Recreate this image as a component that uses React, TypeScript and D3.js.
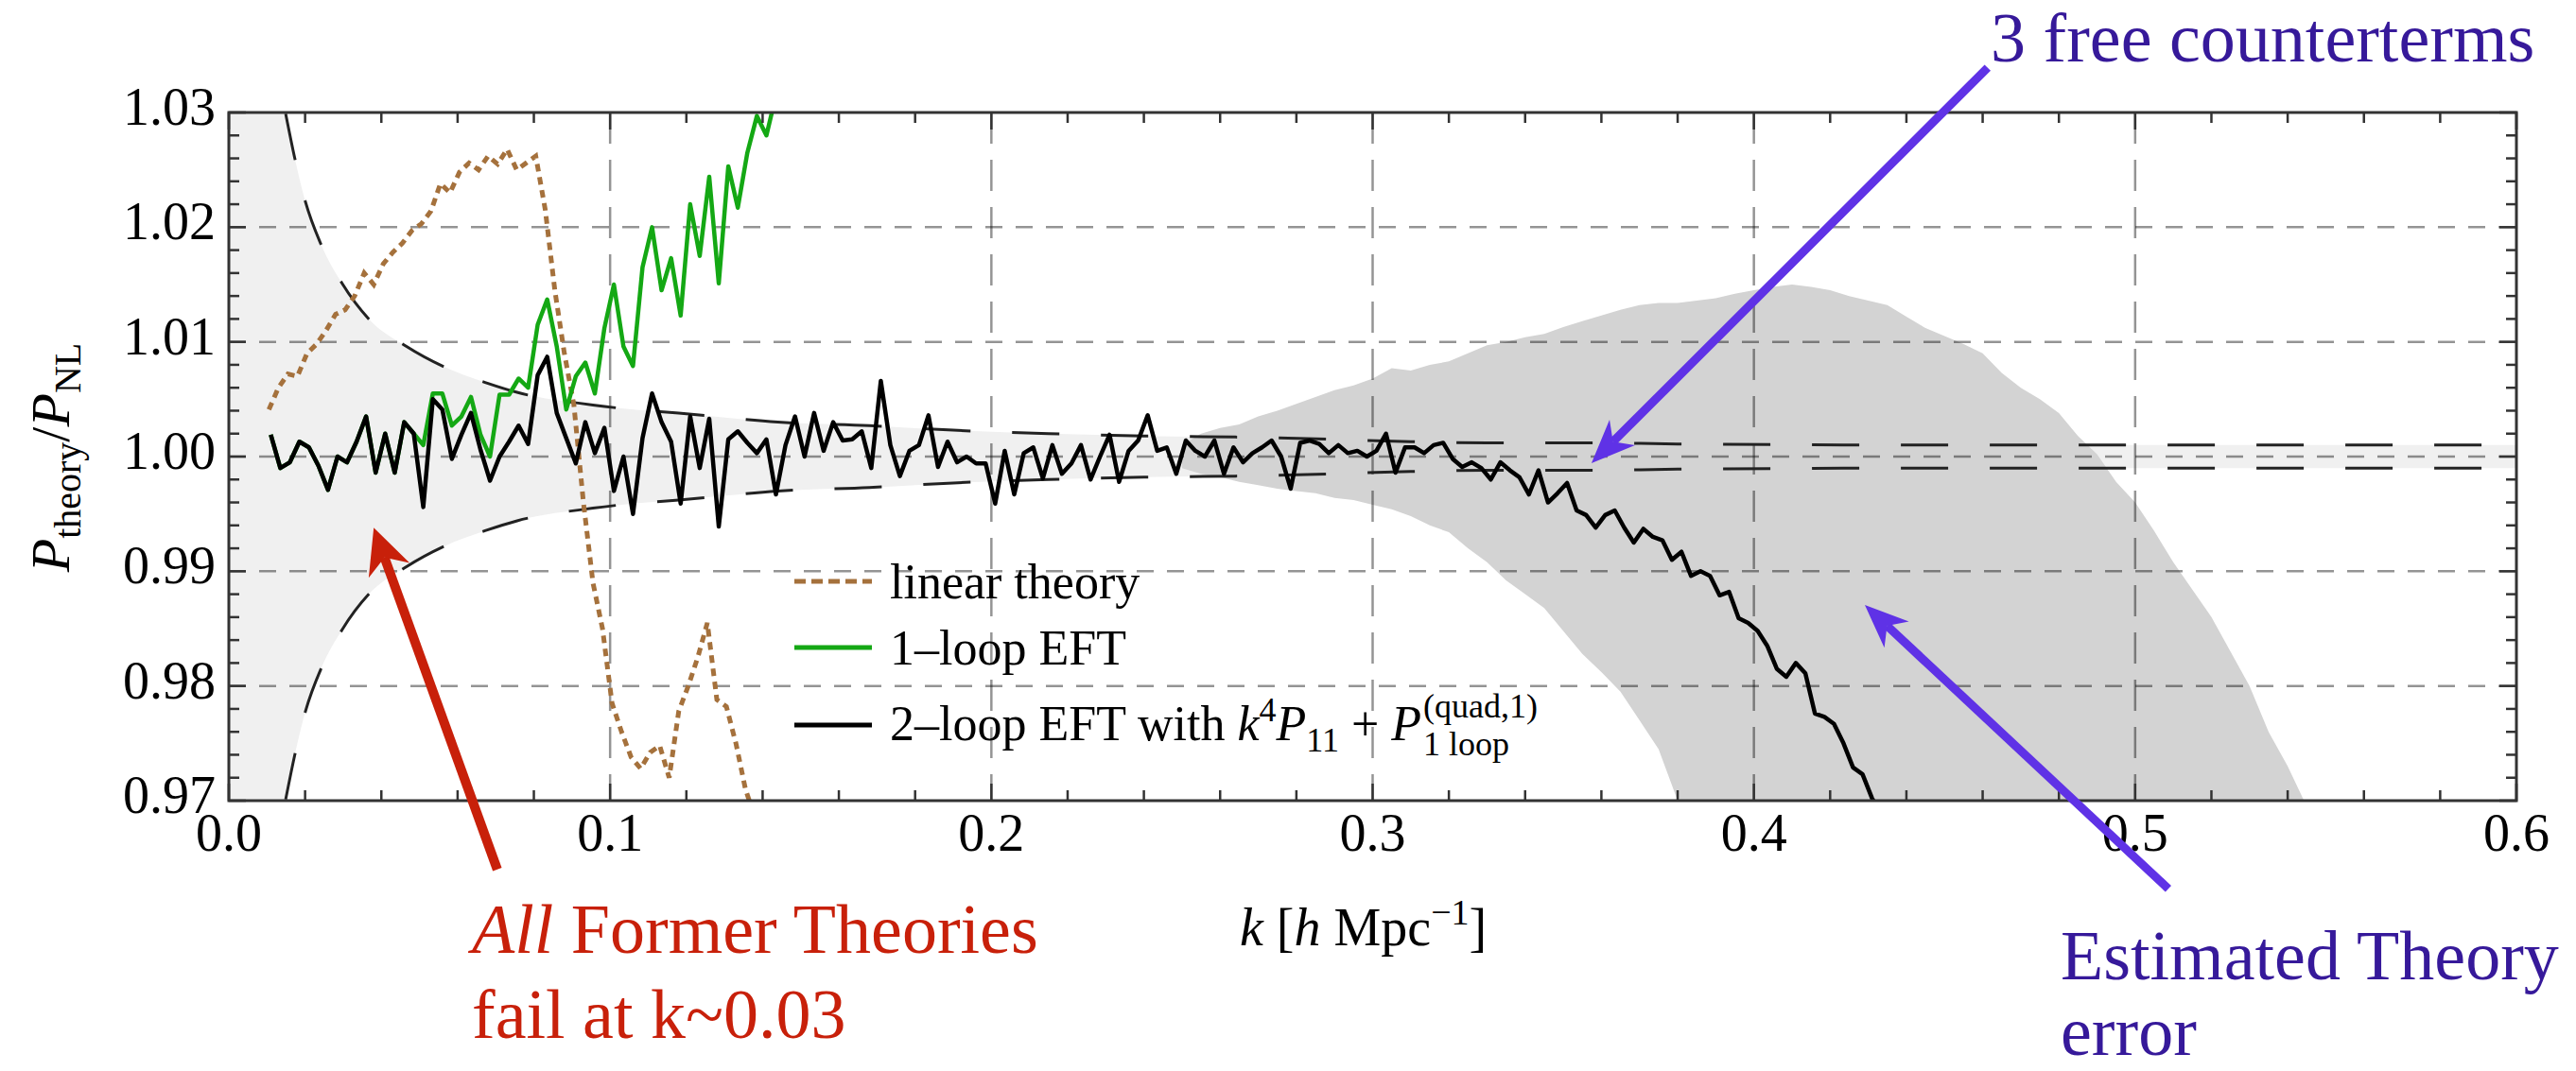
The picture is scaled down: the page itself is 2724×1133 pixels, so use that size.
import React, { useEffect, useRef } from "react";
import * as d3 from "d3";

const W = 2724;
const H = 1133;

// ---------- axes ----------
const xDomain = [0, 0.6];
const yDomain = [0.97, 1.03];
const xTickValues = [0, 0.1, 0.2, 0.3, 0.4, 0.5, 0.6];
const xTickLabels = ["0.0", "0.1", "0.2", "0.3", "0.4", "0.5", "0.6"];
const yTickValues = [0.97, 0.98, 0.99, 1.0, 1.01, 1.02, 1.03];
const yTickLabels = ["0.97", "0.98", "0.99", "1.00", "1.01", "1.02", "1.03"];
const xGridValues = [0.1, 0.2, 0.3, 0.4, 0.5];
const yGridValues = [0.98, 0.99, 1.0, 1.01, 1.02];

// ---------- series (deviations from 1, in units of 1e-4) ----------
// 2-loop EFT (black), sampled every 0.0025 in k starting at k = 0.011
const blackK0 = 0.011;
const blackStep = 0.0025;
const blackDev = [
  19, -10, -5, 13, 8, -8, -29, 0, -5, 13,
  35, -14, 20, -14, 30, 20, -44, 50, 41, -2,
  19, 38, 6, -21, 0, 13, 27, 11, 71, 87,
  38, 16, -6, 30, 3, 25, -30, 0, -50, 16,
  55, 30, 13, -41, 35, -10, 33, -61, 15, 22,
  12, 3, 15, -33, 10, 35, 0, 38, 5, 30,
  14, 15, 22, -10, 66, 10, -17, 5, 10, 36,
  -9, 13, -5, 0, -6, -6, -41, 5, -33, 3,
  8, -19, 10, -15, -6, 10, -20, 0, 19, -22,
  5, 14, 36, 5, 8, -15, 14, 5, 0, 14,
  -15, 8, -5, 3, 8, 14, 0, -28, 12, 14,
  11, 3, 10, 3, 5, 0, 5, 20, -14, 8,
  8, 3, 10, 12, -2, -9, -5, -10, -20, -5,
  -12, -18, -33, -12, -40, -32, -23, -47, -51, -62,
  -51, -47, -62, -75, -63, -70, -73, -90, -83, -104,
  -100, -104, -121, -118, -141, -145, -152, -165, -185, -192,
  -180, -189, -224, -227, -233, -250, -271, -277, -298, -312,
];

// 1-loop EFT (green), sampled every 0.0025 in k starting at k = 0.011
const greenK0 = 0.011;
const greenStep = 0.0025;
const greenDev = [
  19, -10, -5, 13, 8, -8, -29, 0, -5, 13,
  35, -14, 20, -14, 30, 20, 10, 55, 55, 27,
  35, 52, 19, 0, 54, 54, 68, 60, 115, 137,
  96, 41, 70, 82, 55, 112, 150, 96, 79, 165,
  200, 145, 173, 123, 220, 175, 244, 151, 253, 217,
  265, 297, 280, 315,
];

// linear theory (brown), sampled every 0.0025 in k starting at k = 0.0105
const brownK0 = 0.0105;
const brownStep = 0.0025;
const brownDev = [
  41, 60, 72, 70, 90, 98, 110, 124, 128, 140,
  160, 150, 168, 178, 186, 197, 203, 214, 238, 230,
  248, 256, 250, 262, 255, 268, 250, 256, 262, 215,
  145, 90, 45, -40, -110, -150, -215, -240, -262, -272,
  -258, -252, -280, -222, -200, -175, -145, -212, -218, -250,
  -290, -315,
];

// cosmic-variance envelope (light band, dashed curves): half-width vs k
const envK = [0, 0.0149, 0.0173, 0.0201, 0.0243, 0.0297, 0.0367, 0.0466, 0.0566, 0.0678, 0.0756,
  0.0955, 0.103, 0.118, 0.144, 0.168, 0.19, 0.215, 0.24, 0.264, 0.29, 0.31, 0.33, 0.355, 0.38, 0.45, 0.5, 0.6];
const envDev = [3000, 299, 260, 222, 184, 151, 120, 96, 78, 64, 56,
  45, 42, 38, 30, 27, 23, 20, 18, 17, 15, 13, 12, 12, 11, 10, 10, 10];

// estimated theory error (dark band), sampled every 0.005 in k from 0.25
const errK0 = 0.25;
const errStep = 0.005;
const errUpper = [
  10, 20, 25, 28, 35, 40, 46, 52, 58, 62,
  68, 77, 75, 80, 83, 90, 97, 100, 104, 107,
  113, 118, 123, 128, 132, 134, 134, 136, 138, 142,
  145, 148, 150, 148, 145, 140, 136, 132, 122, 112,
  105, 98, 90, 73, 60, 50, 38, 18, 2, -22,
  -40, -65, -92, -116, -140, -170, -200, -240, -270, -305,
];
const errLower = [
  -10, -15, -18, -22, -25, -28, -30, -32, -36, -38,
  -42, -46, -52, -60, -66, -80, -92, -108, -120, -132,
  -152, -172, -188, -205, -230, -255, -300, -340, -400, -400,
  -400, -400, -400, -400, -400, -400, -400, -400, -400, -400,
  -400, -400, -400, -400, -400, -400, -400, -400, -400, -400,
  -400, -400, -400, -400, -400, -400, -400, -400, -400, -400,
];

// legend
const legendLabels = ["linear theory", "1\u2013loop EFT"];

// annotation anchors in data coordinates [k, ratio]
const redArrow = { from: [0.0704, 0.964], to: [0.038, 0.9938] };
const ctArrow = { from: [0.4613, 1.0339], to: [0.3574, 0.99942] };
const errArrow = { from: [0.5087, 0.96232], to: [0.4291, 0.98706] };

const COLORS = {
  black: "#000000",
  green: "#14a814",
  brown: "#a5713c",
  light: "#f0f0f0",
  dark: "#d3d3d3",
  red: "#c8200a",
  purpleText: "#36199a",
  purpleArrow: "#5f32e6",
  frame: "#333333",
};

const serif = "'Liberation Serif', 'Times New Roman', Times, serif";

function series(k0: number, step: number, dev: number[]) {
  return dev.map((d, i) => ({ k: k0 + i * step, v: 1 + d / 1e4 }));
}

function drawArrow(
  g: any,
  x1: number, y1: number, x2: number, y2: number,
  color: string, width: number, headLen: number, halfW: number
) {
  const dx = x2 - x1, dy = y2 - y1;
  const L = Math.hypot(dx, dy);
  const ux = dx / L, uy = dy / L;
  const nx = -uy, ny = ux;
  const notch = headLen * 0.7;
  g.append("line")
    .attr("x1", x1).attr("y1", y1)
    .attr("x2", x2 - ux * notch).attr("y2", y2 - uy * notch)
    .attr("stroke", color).attr("stroke-width", width);
  const pts = [
    [x2, y2],
    [x2 - ux * headLen + nx * halfW, y2 - uy * headLen + ny * halfW],
    [x2 - ux * notch, y2 - uy * notch],
    [x2 - ux * headLen - nx * halfW, y2 - uy * headLen - ny * halfW],
  ];
  g.append("polygon").attr("points", pts.map((p) => p.join(",")).join(" ")).attr("fill", color);
}

export default function App() {
  const ref = useRef<SVGSVGElement>(null);

  useEffect(() => {
    const svg = d3.select(ref.current);
    svg.selectAll("*").remove();

    const x = d3.scaleLinear().domain(xDomain).range([242, 2661]);
    const y = d3.scaleLinear().domain(yDomain).range([847, 119]);
    const [left, right] = x.range();
    const bottom = y(yDomain[0]);
    const top = y(yDomain[1]);

    svg.append("rect").attr("width", W).attr("height", H).attr("fill", "#fff");

    svg.append("defs").append("clipPath").attr("id", "plotclip")
      .append("rect").attr("x", left).attr("y", top).attr("width", right - left).attr("height", bottom - top);

    const plot = svg.append("g").attr("clip-path", "url(#plotclip)");

    // light envelope band
    const env = envK.map((k, i) => ({ k, e: envDev[i] / 1e4 }));
    plot.append("path").datum(env)
      .attr("d", d3.area<any>().x((d) => x(d.k)).y0((d) => y(1 - d.e)).y1((d) => y(1 + d.e)).curve(d3.curveMonotoneX))
      .attr("fill", COLORS.light);

    // dark estimated theory error band
    const err = errUpper.map((u, i) => ({ k: errK0 + i * errStep, hi: 1 + u / 1e4, lo: 1 + errLower[i] / 1e4 }));
    plot.append("path").datum(err)
      .attr("d", d3.area<any>().x((d) => x(d.k)).y0((d) => y(d.lo)).y1((d) => y(d.hi)))
      .attr("fill", COLORS.dark);

    // grid lines
    const grid = plot.append("g").attr("stroke", "rgba(0,0,0,0.42)").attr("stroke-width", 2.5);
    xGridValues.forEach((v) => {
      grid.append("line").attr("x1", x(v)).attr("x2", x(v)).attr("y1", top).attr("y2", bottom)
        .attr("stroke-dasharray", "33,17");
    });
    yGridValues.forEach((v) => {
      grid.append("line").attr("x1", left).attr("x2", right).attr("y1", y(v)).attr("y2", y(v))
        .attr("stroke-dasharray", "18,14");
    });

    // dashed envelope curves
    const envLine = env.slice(1);
    [1, -1].forEach((s) => {
      plot.append("path").datum(envLine)
        .attr("d", d3.line<any>().x((d) => x(d.k)).y((d) => y(1 + s * d.e)).curve(d3.curveMonotoneX))
        .attr("fill", "none").attr("stroke", "#222").attr("stroke-width", 3)
        .attr("stroke-dasharray", "50,44");
    });

    const line = d3.line<any>().x((d) => x(d.k)).y((d) => y(d.v));

    // linear theory
    plot.append("path").datum(series(brownK0, brownStep, brownDev))
      .attr("d", line).attr("fill", "none").attr("stroke", COLORS.brown)
      .attr("stroke-width", 5).attr("stroke-dasharray", "8,6");
    // 1-loop
    plot.append("path").datum(series(greenK0, greenStep, greenDev))
      .attr("d", line).attr("fill", "none").attr("stroke", COLORS.green)
      .attr("stroke-width", 4.5).attr("stroke-linejoin", "round");
    // 2-loop
    plot.append("path").datum(series(blackK0, blackStep, blackDev))
      .attr("d", line).attr("fill", "none").attr("stroke", COLORS.black)
      .attr("stroke-width", 4.5).attr("stroke-linejoin", "round");

    // frame
    svg.append("rect").attr("x", left).attr("y", top).attr("width", right - left).attr("height", bottom - top)
      .attr("fill", "none").attr("stroke", COLORS.frame).attr("stroke-width", 3);

    // ticks
    const tk = svg.append("g").attr("stroke", COLORS.frame).attr("stroke-width", 2.5);
    const xMinor = x.ticks(30);
    const yMinor = y.ticks(30);
    const isMajorX = (v: number) => xTickValues.some((m) => Math.abs(m - v) < 1e-9);
    const isMajorY = (v: number) => yTickValues.some((m) => Math.abs(m - v) < 1e-9);
    xMinor.forEach((v) => {
      const len = isMajorX(v) ? 18 : 11;
      tk.append("line").attr("x1", x(v)).attr("x2", x(v)).attr("y1", bottom).attr("y2", bottom - len);
      tk.append("line").attr("x1", x(v)).attr("x2", x(v)).attr("y1", top).attr("y2", top + len);
    });
    yMinor.forEach((v) => {
      const len = isMajorY(v) ? 18 : 11;
      tk.append("line").attr("x1", left).attr("x2", left + len).attr("y1", y(v)).attr("y2", y(v));
      tk.append("line").attr("x1", right).attr("x2", right - len).attr("y1", y(v)).attr("y2", y(v));
    });

    // tick labels
    const lab = svg.append("g").attr("font-family", serif).attr("font-size", 56).attr("fill", "#000");
    xTickValues.forEach((v, i) => {
      lab.append("text").attr("x", x(v)).attr("y", 900).attr("text-anchor", "middle").text(xTickLabels[i]);
    });
    yTickValues.forEach((v, i) => {
      lab.append("text").attr("x", 228).attr("y", y(v) + 13).attr("text-anchor", "end").text(yTickLabels[i]);
    });

    // axis titles
    const xt = svg.append("text").attr("x", 1311).attr("y", 1000).attr("font-family", serif).attr("font-size", 56);
    xt.append("tspan").attr("font-style", "italic").text("k");
    xt.append("tspan").text(" [");
    xt.append("tspan").attr("font-style", "italic").text("h");
    xt.append("tspan").text(" Mpc");
    xt.append("tspan").attr("font-size", 38).attr("dy", -22).text("\u22121");
    xt.append("tspan").attr("dy", 22).text("]");

    const yt = svg.append("text").attr("transform", "translate(73,484) rotate(-90)")
      .attr("text-anchor", "middle").attr("font-family", serif).attr("font-size", 58);
    yt.append("tspan").attr("font-style", "italic").text("P");
    yt.append("tspan").attr("font-size", 40).attr("dy", 12).text("theory");
    yt.append("tspan").attr("dy", -12).text("/");
    yt.append("tspan").attr("font-style", "italic").text("P");
    yt.append("tspan").attr("font-size", 40).attr("dy", 12).text("NL");

    // legend
    const lg = svg.append("g").attr("font-family", serif).attr("font-size", 52);
    const sampleY = [615, 685, 767];
    const baseY = [633, 703, 783];
    lg.append("line").attr("x1", 840).attr("x2", 922).attr("y1", sampleY[0]).attr("y2", sampleY[0])
      .attr("stroke", COLORS.brown).attr("stroke-width", 5).attr("stroke-dasharray", "12,6");
    lg.append("line").attr("x1", 840).attr("x2", 922).attr("y1", sampleY[1]).attr("y2", sampleY[1])
      .attr("stroke", COLORS.green).attr("stroke-width", 5);
    lg.append("line").attr("x1", 840).attr("x2", 922).attr("y1", sampleY[2]).attr("y2", sampleY[2])
      .attr("stroke", COLORS.black).attr("stroke-width", 5);
    lg.append("text").attr("x", 941).attr("y", baseY[0]).text(legendLabels[0]);
    lg.append("text").attr("x", 941).attr("y", baseY[1]).text(legendLabels[1]);
    const t3 = lg.append("text").attr("x", 941).attr("y", baseY[2]);
    t3.append("tspan").text("2\u2013loop EFT with ");
    t3.append("tspan").attr("font-style", "italic").text("k");
    t3.append("tspan").attr("font-size", 36).attr("dy", -20).text("4");
    t3.append("tspan").attr("dy", 20).attr("font-style", "italic").text("P");
    t3.append("tspan").attr("font-size", 36).attr("dy", 12).text("11");
    t3.append("tspan").attr("dy", -12).text(" + ");
    t3.append("tspan").attr("font-style", "italic").text("P");
    const w3 = (t3.node() as SVGTextElement).getComputedTextLength();
    const xs = 941 + w3 + 2;
    lg.append("text").attr("x", xs).attr("y", baseY[2] - 24).attr("font-size", 36).text("(quad,1)");
    lg.append("text").attr("x", xs).attr("y", baseY[2] + 16).attr("font-size", 36).text("1 loop");

    // annotations
    const ann = svg.append("g");
    drawArrow(ann, x(redArrow.from[0]), y(redArrow.from[1]), x(redArrow.to[0]), y(redArrow.to[1]),
      COLORS.red, 10, 48, 23);
    drawArrow(ann, x(ctArrow.from[0]), y(ctArrow.from[1]), x(ctArrow.to[0]), y(ctArrow.to[1]),
      COLORS.purpleArrow, 9, 46, 19);
    drawArrow(ann, x(errArrow.from[0]), y(errArrow.from[1]), x(errArrow.to[0]), y(errArrow.to[1]),
      COLORS.purpleArrow, 9, 46, 19);

    const at = svg.append("g").attr("font-family", serif).attr("font-size", 74);
    at.append("text").attr("x", 2105).attr("y", 65).attr("fill", COLORS.purpleText).text("3 free counterterms");
    at.append("text").attr("x", 2179).attr("y", 1036).attr("fill", COLORS.purpleText).text("Estimated Theory");
    at.append("text").attr("x", 2179).attr("y", 1116).attr("fill", COLORS.purpleText).text("error");
    const r1 = at.append("text").attr("x", 499).attr("y", 1008).attr("fill", COLORS.red);
    r1.append("tspan").attr("font-style", "italic").text("All");
    r1.append("tspan").text(" Former Theories");
    at.append("text").attr("x", 499).attr("y", 1098).attr("fill", COLORS.red).text("fail at k~0.03");
  }, []);

  return (
    <svg
      ref={ref}
      width={W}
      height={H}
      style={{ position: "absolute", left: 0, top: 0, display: "block" }}
    />
  );
}
